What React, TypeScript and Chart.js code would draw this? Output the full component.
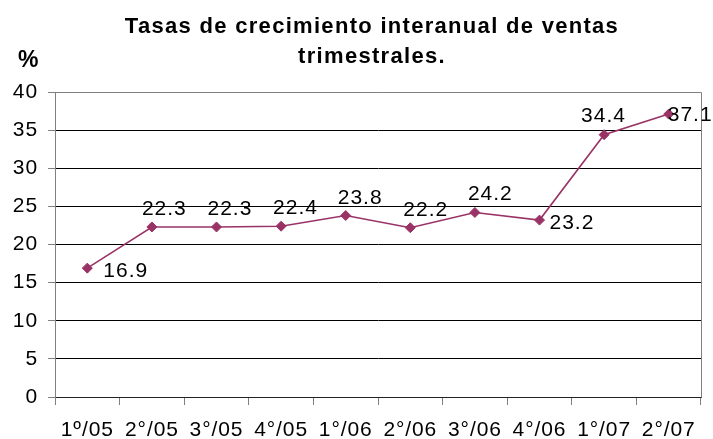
import React, { useEffect, useRef } from "react";
import { Chart, registerables } from "chart.js";

Chart.register(...registerables);

// ---- data ----
const categories = ["1º/05", "2°/05", "3°/05", "4°/05", "1°/06", "2°/06", "3°/06", "4°/06", "1°/07", "2°/07"];
const growthRates = [16.9, 22.3, 22.3, 22.4, 23.8, 22.2, 24.2, 23.2, 34.4, 37.1];
const titleLines = ["Tasas de crecimiento interanual de ventas", "trimestrales."];
const unitLabel = "%";
const yMin = 0;
const yMax = 40;
const yStep = 5;

// ---- style ----
const FONT = "'Liberation Sans', Arial, Helvetica, sans-serif";
const LINE_COLOR = "#993366";
const GRID_COLOR = "#000000";
const FRAME_COLOR = "#808080";
// label offsets relative to the point: [dx to text left, dy to baseline]
const LABEL_OFFSETS: [number, number][] = [
  [16, 9], [-10, -12], [-9, -12], [-8, -12], [-8, -12],
  [-7, -12], [-7, -12], [10, 9], [-23, -13], [-1, 7],
];

const decorPlugin = {
  id: "decor",
  beforeDraw(chart: any) {
    (chart.ctx as any).letterSpacing = "0.9px";
  },
  beforeDatasetsDraw(chart: any) {
    const { ctx, chartArea } = chart;
    ctx.save();
    ctx.strokeStyle = FRAME_COLOR;
    ctx.lineWidth = 1;
    ctx.beginPath();
    ctx.moveTo(Math.round(chartArea.left) + 0.5, Math.round(chartArea.top) + 0.5);
    ctx.lineTo(Math.round(chartArea.right) + 0.5, Math.round(chartArea.top) + 0.5);
    ctx.lineTo(Math.round(chartArea.right) + 0.5, Math.round(chartArea.bottom) + 0.5);
    ctx.stroke();
    ctx.restore();
  },
  afterDatasetsDraw(chart: any) {
    const { ctx } = chart;
    const meta = chart.getDatasetMeta(0);
    ctx.save();
    ctx.fillStyle = "#000";
    ctx.font = `21px ${FONT}`;
    (ctx as any).letterSpacing = "1px";
    ctx.textAlign = "left";
    ctx.textBaseline = "alphabetic";
    meta.data.forEach((pt: any, i: number) => {
      const [dx, dy] = LABEL_OFFSETS[i] || [0, -12];
      ctx.fillText(growthRates[i].toFixed(1), pt.x + dx, pt.y + dy);
    });
    ctx.restore();
  },
  afterDraw(chart: any) {
    const { ctx, chartArea } = chart;
    ctx.save();
    ctx.fillStyle = "#000";
    ctx.font = `bold 22px ${FONT}`;
    (ctx as any).letterSpacing = "1.3px";
    ctx.textAlign = "center";
    ctx.textBaseline = "alphabetic";
    const cx = (chartArea.left + chartArea.right) / 2 - 6;
    ctx.fillText(titleLines[0], cx, 33);
    ctx.fillText(titleLines[1], cx, 63);
    (ctx as any).letterSpacing = "0px";
    ctx.textAlign = "left";
    ctx.font = `bold 23px ${FONT}`;
    ctx.fillText(unitLabel, 18, 67);
    ctx.restore();
  },
};

export default function App() {
  const canvasRef = useRef<HTMLCanvasElement | null>(null);

  useEffect(() => {
    if (!canvasRef.current) return;
    const chart = new Chart(canvasRef.current, {
      type: "line",
      data: {
        labels: categories,
        datasets: [
          {
            data: growthRates,
            borderColor: LINE_COLOR,
            backgroundColor: LINE_COLOR,
            borderWidth: 1.6,
            pointStyle: "rectRot",
            pointRadius: 5,
            pointBackgroundColor: LINE_COLOR,
            pointBorderColor: LINE_COLOR,
            pointBorderWidth: 1,
            tension: 0,
            fill: false,
          },
        ],
      },
      options: {
        responsive: false,
        animation: false,
        layout: { padding: { top: 92, right: 12, left: 0, bottom: 0 } },
        plugins: {
          legend: { display: false },
          tooltip: { enabled: false },
          title: { display: false },
        },
        scales: {
          x: {
            type: "category",
            offset: true,
            afterFit: (scale: any) => {
              scale.height = 42;
            },
            grid: {
              offset: true,
              drawOnChartArea: false,
              drawTicks: true,
              tickLength: 8,
              tickColor: FRAME_COLOR,
            },
            border: { display: true, color: "#222222", width: 1 },
            ticks: {
              color: "#000",
              font: { family: FONT, size: 21 },
              padding: 13,
              maxRotation: 0,
              autoSkip: false,
            },
          },
          y: {
            min: yMin,
            max: yMax,
            afterFit: (scale: any) => {
              scale.width = 55;
            },
            grid: {
              color: (c: any) => (c.tick && c.tick.value === yMax ? FRAME_COLOR : GRID_COLOR),
              lineWidth: 1,
              drawTicks: true,
              tickLength: 7,
              tickColor: FRAME_COLOR,
            },
            border: { display: true, color: FRAME_COLOR, width: 1 },
            ticks: {
              stepSize: yStep,
              color: "#000",
              font: { family: FONT, size: 21 },
              padding: 10,
            },
          },
        },
      },
      plugins: [decorPlugin],
    } as any);
    return () => chart.destroy();
  }, []);

  return (
    <div style={{ position: "fixed", left: 0, top: 0, width: 713, height: 439, background: "#fff" }}>
      <canvas ref={canvasRef} width={713} height={439} style={{ display: "block" }} />
    </div>
  );
}
